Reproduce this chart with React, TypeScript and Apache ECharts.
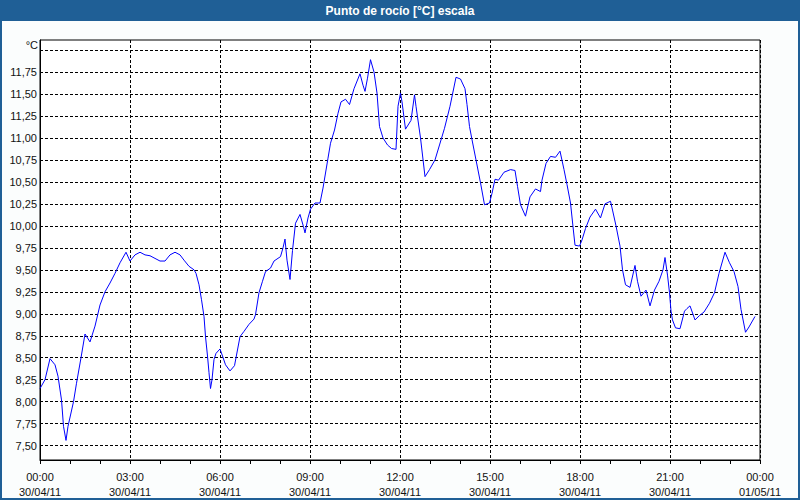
import React, { useEffect, useRef } from "react";
import * as echarts from "echarts";

const times = [
  "00:00","00:10","00:20","00:30","00:36","00:43","00:47","00:52","00:56","01:07","01:13","01:22","01:30","01:40","01:50",
  "02:00","02:10","02:20","02:30","02:40","02:52","03:00","03:10","03:20","03:30","03:40","03:50","04:00","04:10","04:20",
  "04:30","04:40","04:48","04:58","05:08","05:12","05:18","05:23","05:28","05:31","05:35","05:38","05:41","05:44","05:48",
  "05:52","06:00","06:05","06:11","06:20","06:29","06:40","06:48","06:58","07:08","07:11","07:18","07:25","07:31","07:41",
  "07:48","08:01","08:06","08:10","08:14","08:20","08:25","08:31","08:40","08:47","08:50","08:56","09:01","09:10","09:20",
  "09:26","09:36","09:41","09:49","09:56","10:02","10:11","10:19","10:28","10:40","10:46","10:50","10:55","11:01","11:08",
  "11:14","11:19","11:26","11:35","11:43","11:52","11:56","12:01","12:04","12:11","12:22","12:29","12:32","12:41","12:50",
  "12:59","13:10","13:19","13:29","13:40","13:52","14:01","14:10","14:14","14:19","14:24","14:32","14:41","14:49","14:59",
  "15:04","15:10","15:17","15:28","15:41","15:50","15:55","16:01","16:11","16:20","16:31","16:41","16:44","16:52","17:01",
  "17:11","17:20","17:28","17:34","17:41","17:46","17:50","17:59","18:04","18:11","18:20","18:31","18:41","18:50","19:01",
  "19:05","19:12","19:20","19:25","19:31","19:40","19:50","19:55","20:02","20:12","20:20","20:29","20:38","20:46","20:50",
  "20:55","20:59","21:02","21:05","21:11","21:20","21:29","21:34","21:40","21:50","21:59","22:08","22:19","22:29","22:38",
  "22:50","22:59","23:08","23:16","23:22","23:31","23:38","23:50"
];

const dewPoint = [
  8.15,8.25,8.49,8.42,8.29,8.02,7.72,7.56,7.72,8.00,8.21,8.50,8.77,8.68,8.86,
  9.10,9.25,9.35,9.46,9.58,9.70,9.60,9.67,9.70,9.67,9.66,9.63,9.60,9.60,9.67,
  9.70,9.67,9.61,9.54,9.50,9.46,9.33,9.16,8.97,8.74,8.52,8.33,8.15,8.25,8.48,
  8.55,8.60,8.52,8.42,8.35,8.41,8.74,8.80,8.88,8.94,8.99,9.24,9.37,9.48,9.52,
  9.60,9.65,9.75,9.85,9.61,9.39,9.72,10.03,10.13,9.99,9.92,10.09,10.19,10.26,10.26,
  10.43,10.77,10.94,11.09,11.28,11.41,11.44,11.38,11.56,11.73,11.60,11.53,11.68,11.89,11.75,
  11.51,11.13,11.00,10.92,10.88,10.87,11.36,11.51,11.41,11.10,11.20,11.49,11.36,11.00,10.56,
  10.64,10.75,10.92,11.11,11.36,11.69,11.67,11.56,11.38,11.13,10.98,10.75,10.49,10.24,10.26,
  10.37,10.53,10.52,10.61,10.64,10.63,10.45,10.24,10.11,10.33,10.42,10.39,10.52,10.71,10.79,
  10.78,10.85,10.64,10.47,10.26,9.99,9.78,9.77,9.84,9.97,10.10,10.19,10.09,10.25,10.28,
  10.18,10.00,9.77,9.50,9.33,9.30,9.55,9.37,9.20,9.27,9.09,9.27,9.37,9.50,9.64,
  9.44,9.24,9.03,8.93,8.84,8.83,9.03,9.06,9.09,8.93,8.98,9.02,9.12,9.24,9.46,
  9.70,9.58,9.48,9.31,9.05,8.79,8.85,8.97
];

const xTickHours = ["00:00","03:00","06:00","09:00","12:00","15:00","18:00","21:00","00:00"];
const xTickDates = ["30/04/11","30/04/11","30/04/11","30/04/11","30/04/11","30/04/11","30/04/11","30/04/11","01/05/11"];
const yTickValues = [7.5,7.75,8,8.25,8.5,8.75,9,9.25,9.5,9.75,10,10.25,10.5,10.75,11,11.25,11.5,11.75,12];
const yLabelValues = [7.5,7.75,8,8.25,8.5,8.75,9,9.25,9.5,9.75,10,10.25,10.5,10.75,11,11.25,11.5,11.75];

const titleText = "Punto de rocío [°C] escala";
const unitText = "°C";

const FONT = 'Tahoma, "Liberation Sans", Arial, sans-serif';
const BLUE = "#1F5F96";

function toHours(t: string): number {
  const [h, m] = t.split(":").map(Number);
  return h + m / 60;
}

export default function App() {
  const ref = useRef<HTMLDivElement>(null);
  useEffect(() => {
    document.body.style.margin = "0";
    const chart = echarts.init(ref.current!, undefined, { renderer: "svg" });
    const data = times.map((t, i) => [toHours(t), dewPoint[i]]);
    chart.setOption({
      animation: false,
      backgroundColor: "#FBFDFD",
      textStyle: { fontFamily: FONT },
      grid: {
        left: 40, right: 40, top: 40, bottom: 40,
        show: true, borderColor: "#000", borderWidth: 1, backgroundColor: "#FFFFFF",
      },
      xAxis: {
        type: "value", min: 0, max: 24, interval: 3,
        axisLine: { show: true, onZero: false, lineStyle: { color: "#000", width: 1 } },
        axisTick: { show: true, inside: false, length: 4, lineStyle: { color: "#000" } },
        minorTick: { show: true, splitNumber: 3, length: 4, lineStyle: { color: "#000" } },
        splitLine: { show: true, lineStyle: { color: "#000", type: [3, 2], width: 1 } },
        axisLabel: {
          color: "#111", fontSize: 11, fontFamily: FONT, lineHeight: 15, margin: 9,
          formatter: (v: number) => {
            const i = Math.round(v / 3);
            return xTickHours[i] + "\n" + xTickDates[i];
          },
        },
      },
      yAxis: {
        type: "value", min: 7.337, max: 12.114,
        axisLine: { show: true, onZero: false, lineStyle: { color: "#000", width: 1 } },
        axisTick: { show: false, customValues: yTickValues },
        splitLine: { show: true, lineStyle: { color: "#000", type: [3, 2], width: 1 } },
        axisLabel: {
          customValues: yLabelValues,
          color: "#111", fontSize: 11, fontFamily: FONT, margin: 3,
          formatter: (v: number) => v.toFixed(2).replace(".", ","),
        },
      },
      graphic: [
        { type: "rect", shape: { x: 0, y: 0, width: 800, height: 21 }, style: { fill: BLUE }, silent: true },
        { type: "rect", shape: { x: 1, y: 1, width: 798, height: 498 }, style: { fill: "none", stroke: BLUE, lineWidth: 2 }, silent: true },
        {
          type: "text", x: 400, y: 11,
          style: { text: titleText, fill: "#FFFFFF", font: `bold 12px ${FONT}`, align: "center", verticalAlign: "middle" },
        },
        {
          type: "text", x: 38, y: 45,
          style: { text: unitText, fill: "#111", font: `11px ${FONT}`, align: "right", verticalAlign: "middle" },
        },
      ],
      series: [
        {
          type: "line", data, showSymbol: false, symbol: "none",
          lineStyle: { color: "#0000FF", width: 1 },
        },
      ],
    });
    return () => chart.dispose();
  }, []);
  return <div ref={ref} style={{ position: "fixed", left: 0, top: 0, width: 800, height: 500 }} />;
}
